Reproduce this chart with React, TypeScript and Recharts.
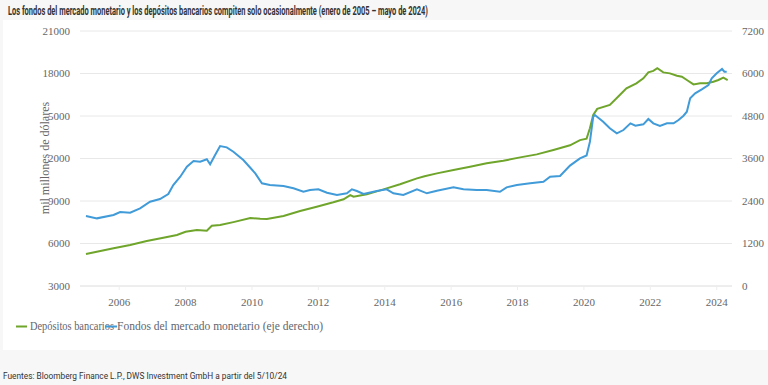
import React from "react";
import { LineChart, Line, XAxis, YAxis, CartesianGrid } from "recharts";

const title =
  "Los fondos del mercado monetario y los depósitos bancarios compiten solo ocasionalmente (enero de 2005 – mayo de 2024)";
const source = "Fuentes: Bloomberg Finance L.P., DWS Investment GmbH a partir del 5/10/24";
const yLabel = "mil millones de dólares";
const depName = "Depósitos bancarios";
const mmfName = "Fondos del mercado monetario (eje derecho)";

const xTicks = [2006, 2008, 2010, 2012, 2014, 2016, 2018, 2020, 2022, 2024];
const leftTicks = [3000, 6000, 9000, 12000, 15000, 18000, 21000];
const rightTicks = [0, 1200, 2400, 3600, 4800, 6000, 7200];

const depYears = [
  2005.0, 2005.83, 2006.33, 2006.83, 2007.33, 2007.74, 2008.0, 2008.34, 2008.64, 2008.79,
  2009.04, 2009.44, 2009.95, 2010.25, 2010.45, 2010.95, 2011.45, 2011.95, 2012.45, 2012.76,
  2012.96, 2013.06, 2013.46, 2013.96, 2014.46, 2014.97, 2015.2, 2015.57, 2016.07, 2016.57,
  2017.07, 2017.57, 2018.08, 2018.58, 2019.08, 2019.58, 2019.88, 2020.08, 2020.18, 2020.28,
  2020.4, 2020.78, 2021.08, 2021.28, 2021.58, 2021.79, 2021.94, 2022.09, 2022.21, 2022.39,
  2022.59, 2022.8, 2022.95, 2023.1, 2023.3, 2023.5, 2023.7, 2023.9, 2024.05, 2024.2, 2024.33,
];
const depValues = [
  5260, 5660, 5890, 6170, 6410, 6600, 6830, 6950, 6900, 7250,
  7300, 7510, 7800, 7750, 7730, 7940, 8290, 8600, 8910, 9120,
  9420, 9300, 9470, 9820, 10180, 10600, 10750, 10950, 11190, 11420,
  11660, 11840, 12080, 12290, 12600, 12930, 13300, 13400, 14130, 15070,
  15500, 15780, 16480, 16950, 17310, 17660, 18080, 18180, 18370, 18080,
  18010, 17840, 17770, 17540, 17230, 17310, 17310, 17420, 17540, 17710, 17540,
];

const mmfYears = [
  2005.0, 2005.33, 2005.83, 2006.03, 2006.33, 2006.63, 2006.93, 2007.23, 2007.48, 2007.63,
  2007.84, 2008.04, 2008.24, 2008.44, 2008.64, 2008.74, 2008.89, 2009.04, 2009.24, 2009.44,
  2009.74, 2009.95, 2010.1, 2010.3, 2010.54, 2010.95, 2011.25, 2011.55, 2011.75, 2012.0,
  2012.26, 2012.56, 2012.86, 2013.01, 2013.16, 2013.36, 2013.76, 2014.06, 2014.26, 2014.56,
  2014.97, 2015.27, 2015.57, 2016.07, 2016.37, 2016.77, 2017.07, 2017.47, 2017.67, 2017.98,
  2018.38, 2018.78, 2018.98, 2019.28, 2019.58, 2019.88, 2020.08, 2020.18, 2020.28, 2020.33,
  2020.58, 2020.78, 2020.99, 2021.19, 2021.4, 2021.55, 2021.79, 2021.94, 2022.09, 2022.29,
  2022.5, 2022.7, 2022.85, 2023.0, 2023.1, 2023.2, 2023.35, 2023.55, 2023.75, 2023.85,
  2024.0, 2024.16, 2024.23, 2024.3,
];
const mmfValues = [
  1976, 1910, 2004, 2089, 2070, 2193, 2380, 2456, 2597, 2850,
  3086, 3368, 3529, 3510, 3577, 3436, 3698, 3952, 3915, 3792,
  3557, 3340, 3181, 2899, 2851, 2823, 2758, 2662, 2710, 2730,
  2634, 2569, 2617, 2730, 2682, 2597, 2682, 2730, 2617, 2569,
  2730, 2617, 2690, 2786, 2730, 2710, 2710, 2662, 2786, 2851,
  2899, 2944, 3086, 3105, 3400, 3605, 3685, 4074, 4780, 4828,
  4639, 4452, 4311, 4404, 4593, 4526, 4565, 4715, 4593, 4517,
  4593, 4593, 4687, 4808, 4921, 5300, 5441, 5554, 5675, 5864,
  6005, 6127, 6051, 6051,
];

const depData = depYears.map((x, i) => ({ x, dep: depValues[i] }));
const mmfData = mmfYears.map((x, i) => ({ x, mmf: mmfValues[i] }));

const GREEN = "#6fa52b";
const BLUE = "#409bd8";
const SERIF = "'Liberation Serif', serif";
const TICK = { fill: "#666", fontSize: 11, fontFamily: SERIF };

export default function App() {
  return (
    <div
      style={{
        position: "absolute",
        left: 0,
        top: 0,
        width: 768,
        height: 385,
        background: "#f7f7f7",
        overflow: "hidden",
      }}
    >
      <svg width={768} height={20} style={{ position: "absolute", left: 0, top: 0 }}>
        <text
          x={8}
          y={15}
          fontFamily="Roboto, sans-serif"
          fontWeight={700}
          fontSize={12}
          fill="#333"
          textLength={420}
          lengthAdjust="spacingAndGlyphs"
        >
          {title}
        </text>
      </svg>
      <div
        style={{
          position: "absolute",
          left: 3,
          top: 20,
          width: 765,
          height: 330,
          background: "#fff",
        }}
      />
      <div style={{ position: "absolute", left: 0, top: 20 }}>
        <LineChart width={768} height={330} margin={{ top: 11, right: 0, left: 0, bottom: 34 }}>
          <CartesianGrid vertical={false} stroke="#e8e8e8" yAxisId="left" />
          <XAxis
            dataKey="x"
            type="number"
            domain={[2004.82, 2024.46]}
            allowDataOverflow
            ticks={xTicks}
            tick={TICK}
            tickSize={4}
            tickMargin={8}
            height={30}
            axisLine={{ stroke: "#e8e8e8" }}
            tickLine={{ stroke: "#eeeeee" }}
          />
          <YAxis
            yAxisId="left"
            orientation="left"
            width={80}
            domain={[3000, 21000]}
            ticks={leftTicks}
            tick={TICK}
            tickSize={0}
            tickMargin={10}
            axisLine={false}
            tickLine={false}
            interval={0}
          />
          <YAxis
            yAxisId="right"
            orientation="right"
            width={36}
            domain={[0, 7200]}
            ticks={rightTicks}
            tick={{ ...TICK, textAnchor: "start" }}
            tickSize={0}
            tickMargin={10}
            axisLine={false}
            tickLine={false}
            interval={0}
          />
          <Line
            yAxisId="left"
            data={depData}
            dataKey="dep"
            type="linear"
            stroke={GREEN}
            strokeWidth={2}
            dot={false}
            isAnimationActive={false}
          />
          <Line
            yAxisId="right"
            data={mmfData}
            dataKey="mmf"
            type="linear"
            stroke={BLUE}
            strokeWidth={2}
            dot={false}
            isAnimationActive={false}
          />
        </LineChart>
      </div>
      <svg width={768} height={385} style={{ position: "absolute", left: 0, top: 0, pointerEvents: "none" }}>
        <rect x={39} y={106} width={10} height={104} fill="#fff" />
        <text
          transform="translate(48.5,158) rotate(-90)"
          textAnchor="middle"
          fontFamily={SERIF}
          fontSize={12}
          fill="#666"
        >
          {yLabel}
        </text>
        <line x1={16} x2={27} y1={326.5} y2={326.5} stroke={GREEN} strokeWidth={2} />
        <text x={30} y={330} fontFamily={SERIF} fontSize={11.5} fill="#5f6670" textLength={84} lengthAdjust="spacingAndGlyphs">
          {depName}
        </text>
        <line x1={105} x2={117} y1={326.5} y2={326.5} stroke={BLUE} strokeWidth={2} />
        <text x={117} y={330} fontFamily={SERIF} fontSize={11.5} fill="#5f6670">
          {mmfName}
        </text>
        <text
          x={3}
          y={379}
          fontFamily="Roboto, sans-serif"
          fontSize={9.5}
          fill="#333"
          textLength={284}
          lengthAdjust="spacingAndGlyphs"
        >
          {source}
        </text>
      </svg>
    </div>
  );
}
